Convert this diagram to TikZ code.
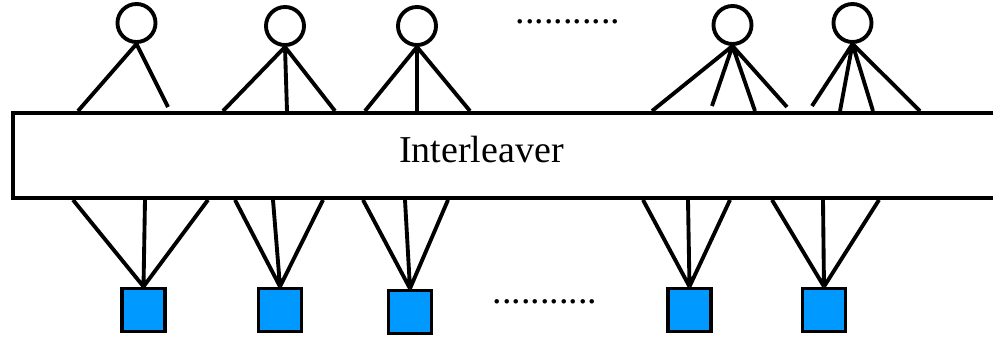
\documentclass[tikz,border=0pt]{standalone}
\usepackage{fontspec}
\setmainfont{Liberation Serif}
\usepackage{tikz}
\usetikzlibrary{calc}
\definecolor{checkblue}{RGB}{0,153,255}

\begin{document}
\begin{tikzpicture}[x=0.01cm, y=-0.01cm, line width=1.1pt,
        var/.style={circle, draw, minimum size=0.38cm, inner sep=0pt},
        chk/.style={rectangle, draw, fill=checkblue, minimum size=0.43cm, inner sep=0pt},
        lbl/.style={font=\fontsize{10.8}{13}\selectfont, inner sep=0pt, anchor=base}]
        \useasboundingbox (0,0) rectangle (993,339);

        % the interleaver block runs off to the right
        \node[draw, anchor=north west, minimum width=10cm, minimum height=0.85cm, inner sep=0pt] (box) at (11,111) {};
        \node[lbl] (name) at (481.5,162) {Interleaver};

        % variable nodes on top
        \node[var] (v1) at (136.5,23) {};
        \node[var] (v2) at (285,26) {};
        \node[var] (v3) at (417,26) {};
        \node[var] (v4) at (732.5,25) {};
        \node[var] (v5) at (852.5,23) {};
        \node[lbl] (vdots) at (568,23) {...........};

        % check nodes below
        \node[chk] (c1) at (143.5,310) {};
        \node[chk] (c2) at (280,310) {};
        \node[chk] (c3) at (410,312) {};
        \node[chk] (c4) at (689.5,310) {};
        \node[chk] (c5) at (824,310) {};
        \node[lbl] (cdots) at (545,303) {...........};

        % edges into the interleaver
        \draw (v1.south) -- ($(box.north west)+(67,0)$)  (v1.south) -- ($(box.north west)+(157,-4)$);
        \draw (v2.south) -- ($(box.north west)+(212,0)$) (v2.south) -- ($(box.north west)+(276,0)$)
              (v2.south) -- ($(box.north west)+(324,0)$);
        \draw (v3.south) -- ($(box.north west)+(354,0)$) (v3.south) -- ($(box.north west)+(406,0)$)
              (v3.south) -- ($(box.north west)+(459,0)$);
        \draw (v4.south) -- ($(box.north west)+(641,0)$) (v4.south) -- ($(box.north west)+(701,-5)$)
              (v4.south) -- ($(box.north west)+(744,0)$) (v4.south) -- ($(box.north west)+(776,-4)$);
        \draw (v5.south) -- ($(box.north west)+(801,-5)$) (v5.south) -- ($(box.north west)+(829,0)$)
              (v5.south) -- ($(box.north west)+(862,0)$) (v5.south) -- ($(box.north west)+(909,0)$);

        % edges out of the interleaver
        \draw (c1.north) -- ($(box.south west)+(62,0)$)  (c1.north) -- ($(box.south west)+(134,0)$)
              (c1.north) -- ($(box.south west)+(197,0)$);
        \draw (c2.north) -- ($(box.south west)+(224,0)$) (c2.north) -- ($(box.south west)+(262,0)$)
              (c2.north) -- ($(box.south west)+(312,0)$);
        \draw (c3.north) -- ($(box.south west)+(352,0)$) (c3.north) -- ($(box.south west)+(394,0)$)
              (c3.north) -- ($(box.south west)+(437,0)$);
        \draw (c4.north) -- ($(box.south west)+(632,0)$) (c4.north) -- ($(box.south west)+(677,0)$)
              (c4.north) -- ($(box.south west)+(719,0)$);
        \draw (c5.north) -- ($(box.south west)+(761,0)$) (c5.north) -- ($(box.south west)+(812,0)$)
              (c5.north) -- ($(box.south west)+(868,0)$);
    \end{tikzpicture}
\end{document}
